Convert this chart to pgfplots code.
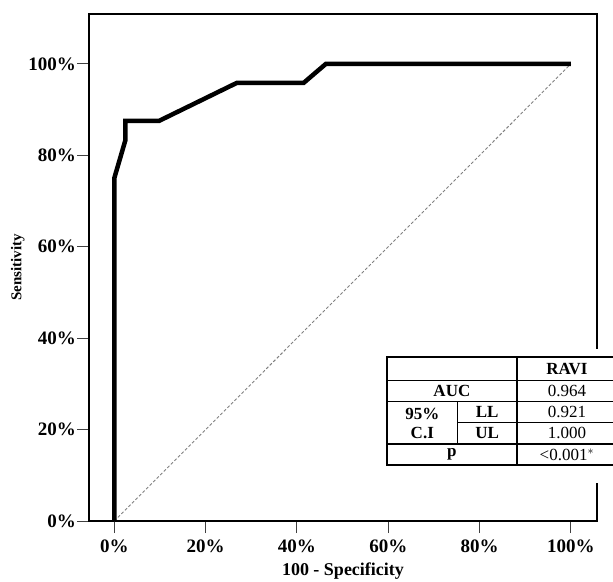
\documentclass[border=0pt]{standalone}
\usepackage{fontspec}
\setmainfont{Liberation Serif}
\usepackage{pgfplots}
\pgfplotsset{compat=1.18}
\begin{document}
\begin{tikzpicture}
\begin{axis}[
  at={(0pt,0pt)}, anchor=south west,
  scale only axis, width=508pt, height=507pt,
  xmin=-5.54, xmax=105.7, ymin=0, ymax=110.9,
  axis line style={line width=2pt},
  xtick={0,20,40,60,80,100}, ytick={0,20,40,60,80,100},
  xticklabels={0\%,20\%,40\%,60\%,80\%,100\%},
  yticklabels={0\%,20\%,40\%,60\%,80\%,100\%},
  tick align=outside, major tick length=12pt,
  xtick pos=bottom, ytick pos=left,
  tick style={line width=1pt, black!75},
  ticklabel style={font=\fontsize{19}{22}\selectfont\bfseries},
  xticklabel style={inner sep=7pt},
  yticklabel style={inner sep=1pt},
  xlabel={100 - Specificity}, ylabel={Sensitivity},
  xlabel style={at={(axis description cs:0.5,-0.0986)}, anchor=center, font=\fontsize{18}{20}\selectfont\bfseries},
  ylabel style={at={(axis description cs:-0.140,0.5)}, anchor=center, font=\fontsize{15}{17}\selectfont\bfseries},
  clip=false,
]
\addplot[gray, line width=0.9pt, dash pattern=on 3pt off 2pt] coordinates {(0,0) (100,100)};
\addplot[black, line width=4.5pt, line join=miter] coordinates {
  (0,0) (0,75) (2.44,83.33) (2.44,87.5) (9.76,87.5) (26.83,95.83) (41.46,95.83) (46.34,100) (100,100)};
\end{axis}
% table
\fill[white] (298pt,38pt) rectangle (530pt,172pt);
\draw[line width=2pt] (298pt,56pt) rectangle (528pt,164pt);
\draw[line width=2pt] (427.7pt,56pt) -- (427.7pt,164pt);
\draw[line width=1.8pt] (298pt,140.5pt) -- (528pt,140.5pt);
\draw[line width=1pt] (298pt,119.5pt) -- (528pt,119.5pt);
\draw[line width=1pt] (368.7pt,77pt) -- (368.7pt,119.5pt);
\draw[line width=1pt] (368.7pt,98.3pt) -- (528pt,98.3pt);
\draw[line width=1.6pt] (298pt,77pt) -- (528pt,77pt);
\begin{scope}[every node/.style={font=\fontsize{17}{19}\selectfont, inner sep=0pt}]
\node[font=\fontsize{17}{19}\selectfont\bfseries] at (477.9pt,152.2pt) {RAVI};
\node[font=\fontsize{17}{19}\selectfont\bfseries] at (362.9pt,130pt) {AUC};
\node[font=\fontsize{17}{19}\selectfont\bfseries] at (333.3pt,107pt) {95\%};
\node[font=\fontsize{17}{19}\selectfont\bfseries] at (333.3pt,88pt) {C.I};
\node[font=\fontsize{17}{19}\selectfont\bfseries] at (398.2pt,109pt) {LL};
\node[font=\fontsize{17}{19}\selectfont\bfseries] at (398.2pt,87.7pt) {UL};
\node[font=\fontsize{17}{19}\selectfont\bfseries] at (362.9pt,66.5pt) {p};
\node at (477.9pt,130pt) {0.964};
\node at (477.9pt,109pt) {0.921};
\node at (477.9pt,87.7pt) {1.000};
\node at (477.9pt,66.5pt) {<0.001$^{*}$};
\end{scope}
\pgfresetboundingbox
\path (-89pt,-60pt) rectangle (524pt,521pt);
\end{tikzpicture}
\end{document}
